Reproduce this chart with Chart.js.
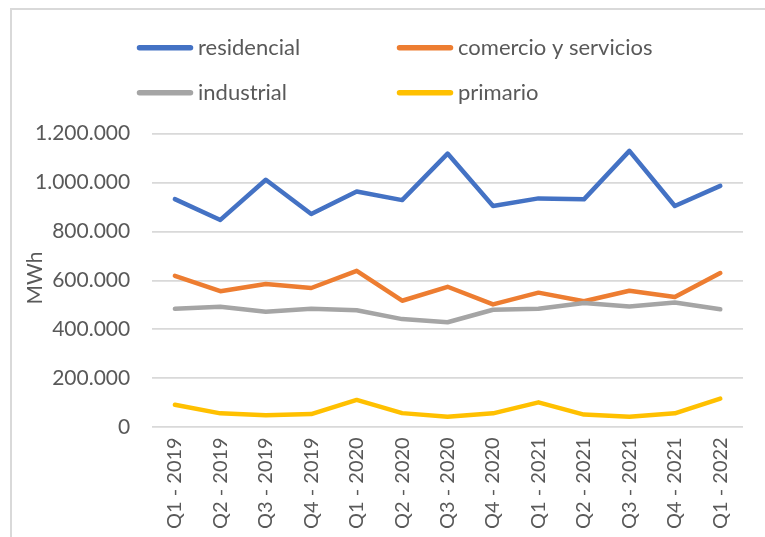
<!DOCTYPE html>
<html>
<head>
<meta charset="utf-8">
<script src="https://cdn.jsdelivr.net/npm/chart.js@4.4.1/dist/chart.umd.min.js"></script>
<style>
  html, body { margin: 0; padding: 0; background: #ffffff; overflow: hidden; }
  #frame { position: absolute; left: 10px; top: 8px; width: 900px; height: 700px;
           border-left: 2px solid #d9d9d9; border-top: 2px solid #d9d9d9; }
  #wrap { position: absolute; left: 0; top: 0; width: 765px; height: 537px; }
</style>
</head>
<body>
<div id="frame"></div>
<div id="wrap"><canvas id="c" width="765" height="537"></canvas></div>
<script>
const categories = ["Q1 - 2019","Q2 - 2019","Q3 - 2019","Q4 - 2019","Q1 - 2020","Q2 - 2020","Q3 - 2020","Q4 - 2020","Q1 - 2021","Q2 - 2021","Q3 - 2021","Q4 - 2021","Q1 - 2022"];
const residencial = [932000, 847000, 1011000, 871000, 963000, 928000, 1118000, 904000, 935000, 931000, 1129000, 904000, 986000];
const comercioYServicios = [619000, 556000, 585000, 569000, 639000, 517000, 574000, 502000, 550000, 515000, 558000, 532000, 630000];
const industrial = [484000, 492000, 472000, 484000, 478000, 442000, 429000, 480000, 484000, 508000, 493000, 510000, 482000];
const primario = [92000, 57000, 49000, 54000, 112000, 58000, 43000, 57000, 102000, 52000, 43000, 57000, 117000];
const seriesNames = ["residencial", "comercio y servicios", "industrial", "primario"];
const yAxisTitle = "MWh";
const yTicks = [0, 200000, 400000, 600000, 800000, 1000000, 1200000];

const colors = ["#4472C4", "#ED7D31", "#A5A5A5", "#FFC000"];
const FONT = "Lato, 'Open Sans', sans-serif";
const TXT = "#595959";

function fmt(v) { return String(v).replace(/\B(?=(\d{3})+(?!\d))/g, "."); }

const seriesData = [residencial, comercioYServicios, industrial, primario];
const datasets = seriesData.map((d, i) => ({
  label: seriesNames[i],
  data: d,
  borderColor: colors[i],
  backgroundColor: colors[i],
  borderWidth: 4.5,
  borderCapStyle: "round",
  borderJoinStyle: "round",
  pointRadius: 0,
  pointHoverRadius: 0,
  tension: 0,
  fill: false,
  order: 3 - i
}));

const extras = {
  id: "extras",
  afterDraw(chart) {
    const ctx = chart.ctx;
    ctx.save();
    const cols = [139.5, 399.5];
    const rows = [47.7, 92.7];
    chart.data.datasets.forEach((ds, i) => {
      const x = cols[i % 2], y = rows[Math.floor(i / 2)];
      ctx.strokeStyle = ds.borderColor;
      ctx.lineWidth = 5.5;
      ctx.lineCap = "round";
      ctx.beginPath(); ctx.moveTo(x, y); ctx.lineTo(x + 51, y); ctx.stroke();
      ctx.fillStyle = TXT;
      ctx.font = "22px " + FONT;
      ctx.textBaseline = "middle";
      ctx.textAlign = "left";
      ctx.fillText(ds.label, x + 58.5, y);
    });
    ctx.translate(35, 278);
    ctx.rotate(-Math.PI / 2);
    ctx.textAlign = "center";
    ctx.textBaseline = "middle";
    ctx.font = "21px " + FONT;
    ctx.fillStyle = TXT;
    ctx.fillText(yAxisTitle, 0, 0);
    ctx.restore();
  }
};

new Chart(document.getElementById("c"), {
  type: "line",
  data: { labels: categories, datasets },
  plugins: [extras],
  options: {
    responsive: false,
    animation: false,
    events: [],
    layout: { padding: { left: 13, right: 22, top: 133.5, bottom: -2 } },
    plugins: { legend: { display: false }, tooltip: { enabled: false }, title: { display: false } },
    scales: {
      x: {
        offset: true,
        grid: { display: false, drawTicks: false },
        border: { display: false },
        ticks: {
          color: TXT, font: { family: FONT, size: 20 },
          minRotation: 90, maxRotation: 90, padding: 10, autoSkip: false
        }
      },
      y: {
        min: 0, max: 1200000,
        afterBuildTicks(axis) { axis.ticks = yTicks.map(v => ({ value: v })); },
        grid: { color: "#d9d9d9", lineWidth: 1.8, drawTicks: false },
        border: { display: false },
        ticks: {
          color: TXT, font: { family: FONT, size: 21 }, padding: 22,
          callback: (v) => fmt(v)
        }
      }
    }
  }
});
</script>
</body>
</html>
